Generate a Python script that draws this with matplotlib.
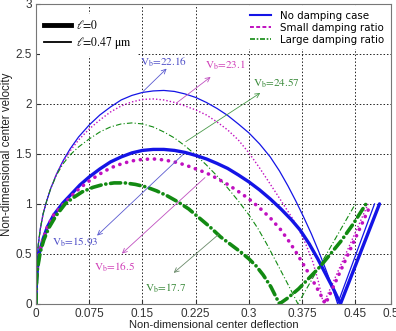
import matplotlib
matplotlib.use('Agg')
import matplotlib.pyplot as plt
from matplotlib.lines import Line2D

# ── data ──────────────────────────────────────────────────────────────────────
# l = 0 (thick lines)
x_nd0 = [0, 0.0005, 0.002, 0.005, 0.01, 0.016, 0.025, 0.038, 0.05, 0.062, 0.075, 0.09,
         0.105, 0.12, 0.135, 0.15, 0.165, 0.18, 0.195, 0.21, 0.225, 0.24, 0.255, 0.27,
         0.285, 0.3, 0.315, 0.33, 0.345, 0.36, 0.372, 0.385, 0.397, 0.408, 0.419, 0.429,
         0.484]
v_nd0 = [0, 0.2, 0.36, 0.52, 0.65, 0.77, 0.89, 1.01, 1.1, 1.19, 1.27, 1.35,
         1.42, 1.47, 1.51, 1.535, 1.545, 1.545, 1.535, 1.515, 1.485, 1.45, 1.405, 1.355,
         1.29, 1.22, 1.14, 1.05, 0.95, 0.84, 0.74, 0.6, 0.45, 0.3, 0.15, 0.0,
         1.0]

x_sd0 = [0, 0.0005, 0.002, 0.005, 0.01, 0.016, 0.025, 0.039, 0.05, 0.062, 0.075, 0.09,
         0.105, 0.12, 0.135, 0.15, 0.165, 0.18, 0.195, 0.21, 0.225, 0.24, 0.255, 0.27,
         0.285, 0.3, 0.315, 0.33, 0.345, 0.357, 0.367, 0.378, 0.388, 0.398, 0.408, 0.472]
v_sd0 = [0, 0.2, 0.36, 0.52, 0.65, 0.77, 0.89, 1.0, 1.08, 1.16, 1.23, 1.3,
         1.36, 1.4, 1.43, 1.445, 1.45, 1.44, 1.42, 1.39, 1.35, 1.31, 1.255, 1.195,
         1.125, 1.05, 0.96, 0.86, 0.74, 0.62, 0.51, 0.38, 0.26, 0.13, 0.0, 1.0]

x_ld0 = [0, 0.0005, 0.002, 0.006, 0.011, 0.018, 0.028, 0.041, 0.052, 0.065, 0.08, 0.095,
         0.11, 0.125, 0.14, 0.155, 0.17, 0.185, 0.2, 0.215, 0.23, 0.245, 0.26, 0.275,
         0.29, 0.3, 0.31, 0.32, 0.331, 0.343, 0.355, 0.37, 0.385, 0.4, 0.415, 0.43,
         0.447, 0.465]
v_ld0 = [0, 0.2, 0.35, 0.52, 0.64, 0.76, 0.88, 1.0, 1.06, 1.12, 1.165, 1.195,
         1.21, 1.21, 1.195, 1.17, 1.13, 1.08, 1.02, 0.95, 0.86, 0.77, 0.67, 0.59,
         0.51, 0.45, 0.38, 0.29, 0.17, 0.0, 0.06, 0.15, 0.26, 0.37, 0.5, 0.63,
         0.8, 1.0]

# l = 0.47 um (thin lines)
x_nd1 = [0, 0.0003, 0.001, 0.003, 0.006, 0.01, 0.015, 0.021, 0.029, 0.038, 0.048, 0.06,
         0.075, 0.09, 0.105, 0.12, 0.135, 0.15, 0.165, 0.18, 0.195, 0.21, 0.225, 0.24,
         0.255, 0.27, 0.285, 0.3, 0.315, 0.33, 0.343, 0.355, 0.366, 0.377, 0.388, 0.398,
         0.408, 0.417, 0.425, 0.477]
v_nd1 = [0, 0.25, 0.4, 0.58, 0.75, 0.9, 1.03, 1.16, 1.3, 1.43, 1.55, 1.67,
         1.79, 1.89, 1.97, 2.04, 2.085, 2.115, 2.13, 2.135, 2.125, 2.1, 2.065, 2.015,
         1.955, 1.885, 1.8, 1.71, 1.6, 1.47, 1.33, 1.18, 1.03, 0.87, 0.7, 0.53,
         0.35, 0.18, 0.0, 1.0]

x_sd1 = [0, 0.0003, 0.001, 0.003, 0.006, 0.01, 0.015, 0.021, 0.029, 0.038, 0.048, 0.06,
         0.075, 0.09, 0.105, 0.12, 0.135, 0.15, 0.165, 0.18, 0.195, 0.21, 0.225, 0.24,
         0.255, 0.27, 0.285, 0.3, 0.315, 0.328, 0.34, 0.35, 0.36, 0.37, 0.38, 0.39,
         0.398, 0.405, 0.468]
v_sd1 = [0, 0.25, 0.4, 0.58, 0.75, 0.9, 1.03, 1.16, 1.3, 1.42, 1.53, 1.64,
         1.75, 1.84, 1.92, 1.98, 2.02, 2.045, 2.05, 2.04, 2.015, 1.98, 1.94, 1.89,
         1.82, 1.74, 1.64, 1.51, 1.36, 1.22, 1.09, 0.98, 0.87, 0.75, 0.6, 0.42,
         0.22, 0.0, 1.0]

x_ld1 = [0, 0.0003, 0.001, 0.003, 0.006, 0.01, 0.015, 0.021, 0.029, 0.038, 0.048, 0.06,
         0.075, 0.09, 0.105, 0.12, 0.135, 0.15, 0.165, 0.18, 0.195, 0.21, 0.225, 0.24,
         0.255, 0.27, 0.285, 0.3, 0.313, 0.325, 0.337, 0.348, 0.359, 0.369, 0.45]
v_ld1 = [0, 0.25, 0.4, 0.58, 0.75, 0.9, 1.03, 1.16, 1.29, 1.4, 1.49, 1.57,
         1.65, 1.72, 1.77, 1.8, 1.81, 1.8, 1.77, 1.72, 1.66, 1.58, 1.49, 1.39,
         1.28, 1.16, 1.03, 0.89, 0.75, 0.6, 0.44, 0.29, 0.14, 0.0, 1.0]

x_ticks = [0, 0.075, 0.15, 0.225, 0.3, 0.375, 0.45, 0.5]
x_tick_labels = ['0', '0.075', '0.15', '0.225', '0.3', '0.375', '0.45', '0.5']
y_ticks = [0, 0.5, 1, 1.5, 2, 2.5, 3]

# pull-in voltage labels: text, label pos, arrow tail (on curve), arrow tip
vb_text = ['22.16', '15.93', '23.1', '16.5', '24.57', '17.7']
vb_label_xy = [(0.18, 2.42), (0.055, 0.62), (0.266, 2.39), (0.110, 0.37), (0.339, 2.21), (0.182, 0.16)]
vb_tail_xy = [(0.151, 2.126), (0.207, 1.493), (0.198, 2.01), (0.238, 1.263), (0.211, 1.623), (0.257, 0.693)]
vb_tip_xy = [(0.184, 2.353), (0.086, 0.683), (0.246, 2.27), (0.121, 0.503), (0.316, 2.11), (0.194, 0.31)]

# ── styles ────────────────────────────────────────────────────────────────────
BLUE = '#1414e6'
MAG = '#c010c0'
GREEN = '#128a12'
vb_text_col = ['#5050c8', '#5050c8', '#d040b8', '#d040b8', '#3a8a3a', '#3a8a3a']
vb_arrow_col = ['#5a5ad0', '#5a5ad0', '#c050c0', '#c050c0', '#4a9a4a', '#6a8a6a']
SANS = 'Liberation Sans'

plt.rcParams['mathtext.fontset'] = 'stix'

fig = plt.figure(figsize=(3.96, 3.31), dpi=100)
ax = fig.add_axes([0.091, 0.082, 0.896, 0.906])

# thin lines (l = 0.47 um)
ax.plot(x_nd1, v_nd1, color=BLUE, lw=0.9)
ax.plot(x_sd1, v_sd1, color=MAG, lw=1.0, linestyle=(0, (1, 1.5)))
ax.plot(x_ld1, v_ld1, color=GREEN, lw=0.8, linestyle=(0, (5, 2, 1, 2)))
# thick lines (l = 0)
ax.plot(x_nd0, v_nd0, color=BLUE, lw=2.4, solid_capstyle='round', solid_joinstyle='round')
ax.plot(x_sd0, v_sd0, color=MAG, lw=2.6, linestyle=(0, (0.05, 1.9)), dash_capstyle='round')
ax.plot(x_ld0, v_ld0, color=GREEN, lw=2.6, linestyle=(0, (2.8, 1.3, 0.05, 1.3)),
        dash_capstyle='round')

for txt, lxy, txy, hxy, tc, ac in zip(vb_text, vb_label_xy, vb_tail_xy, vb_tip_xy,
                                      vb_text_col, vb_arrow_col):
    ax.annotate('', xy=hxy, xytext=txy,
                arrowprops=dict(arrowstyle='->', color=ac, lw=0.6,
                                shrinkA=0, shrinkB=0, mutation_scale=8))
    ax.text(lxy[0], lxy[1], r'V$_\mathrm{b}$=' + txt, color=tc, fontsize=8,
            family='STIXGeneral', ha='center', va='center')

ax.set_xlim(0, 0.5)
ax.set_ylim(0, 3)
ax.set_xticks(x_ticks)
ax.set_xticklabels(x_tick_labels, family=SANS)
ax.set_yticks(y_ticks)
ax.set_yticklabels([f'{t:g}' for t in y_ticks], family=SANS)
ax.tick_params(direction='in', length=3, labelsize=8.5, colors='#333333', pad=3)
ax.grid(True, color='#222222', linestyle=(0, (1.5, 2)), lw=0.7)
for s in ax.spines.values():
    s.set_color('#777777')
    s.set_linewidth(0.8)

ax.set_xlabel('Non-dimensional center deflection', fontsize=8, family=SANS,
              color='#222222', labelpad=0)
ax.set_ylabel('Non-dimensional center velocity', fontsize=8.3, family=SANS,
              color='#222222', labelpad=2)

# legend: length scale
h_len = [Line2D([], [], color='black', lw=3.5), Line2D([], [], color='black', lw=1.3)]
leg1 = ax.legend(h_len, [r'$\ell$=0', r'$\ell$=0.47 $\mathrm{\mu}$m'], loc='upper left',
                 bbox_to_anchor=(0.0, 0.978),
                 prop={'family': 'STIXGeneral', 'size': 8.5}, frameon=True,
                 fancybox=False, edgecolor='none', framealpha=1, handlelength=2.3,
                 borderaxespad=0.3, labelspacing=0.3, handletextpad=0.4)
ax.add_artist(leg1)

# legend: damping
h_damp = [Line2D([], [], color=BLUE, lw=1.5),
          Line2D([], [], color=MAG, lw=1.4, linestyle=(0, (2, 1.2))),
          Line2D([], [], color=GREEN, lw=1.2, linestyle=(0, (3, 1, 1, 1)))]
ax.legend(h_damp, ['No damping case', 'Small damping ratio', 'Large damping ratio'],
          loc='upper right', prop={'size': 7.4}, frameon=True, fancybox=False,
          edgecolor='none', framealpha=1, handlelength=2.0, borderaxespad=0.25,
          labelspacing=0.2, handletextpad=0.9)

fig.savefig('out.png', dpi=100)
